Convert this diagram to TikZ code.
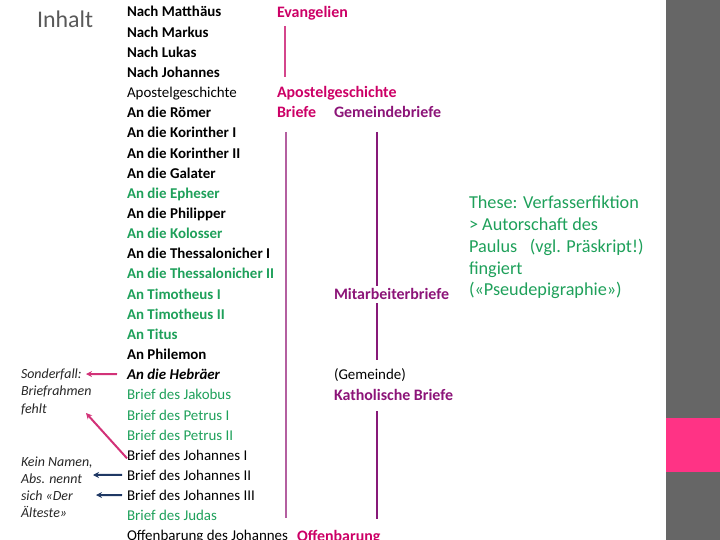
\documentclass[tikz,border=0pt]{standalone}
\usepackage{fontspec}
\setmainfont{Carlito}
\usetikzlibrary{arrows.meta}
\definecolor{grn}{RGB}{30,160,90}
\definecolor{pinkT}{RGB}{204,0,102}
\definecolor{purpT}{RGB}{140,20,120}
\definecolor{lineA}{RGB}{212,70,140}
\definecolor{lineB}{RGB}{180,95,160}
\definecolor{lineC}{RGB}{135,25,120}
\definecolor{arrP}{RGB}{210,50,120}
\definecolor{navy}{RGB}{31,56,100}
\definecolor{barg}{RGB}{102,102,102}
\definecolor{barp}{RGB}{255,51,133}
\definecolor{inh}{RGB}{89,89,89}
\tikzset{
  txt/.style={anchor=base west, inner sep=0pt, outer sep=0pt},
  rowf/.style={txt, font=\fontsize{15}{18}\selectfont},
  bk/.style={rowf, text=black},
  bb/.style={rowf, text=black, font=\fontsize{15}{18}\selectfont\bfseries},
  bbi/.style={rowf, text=black, font=\fontsize{15}{18}\selectfont\bfseries\itshape},
  gb/.style={rowf, text=grn, font=\fontsize{15}{18}\selectfont\bfseries},
  gr/.style={rowf, text=grn},
  lab/.style={txt, font=\fontsize{16}{19}\selectfont\bfseries},
  note/.style={txt, text=black!85, font=\fontsize{14}{17}\selectfont\itshape},
  thesis/.style={txt, text=grn, font=\fontsize{18.3}{21.7}\selectfont},
  vline/.style={line width=2bp},
  arr/.style={line width=2bp, -{Stealth[length=6bp,width=6bp]}}
}
\begin{document}
\begin{tikzpicture}[x=1bp,y=-1bp]
\useasboundingbox (0,0) rectangle (720,540);
\clip (0,0) rectangle (720,540);
% right bar
\fill[barg] (666,0) rectangle (720,540);
\fill[barp] (666,418) rectangle (720,472);
% title
\node[txt, text=inh, font=\fontsize{24}{28}\selectfont] (inhalt) at (37,28) {Inhalt};
% list of books
\foreach \t/\s [count=\i] in {
  Nach Matthäus/bb, Nach Markus/bb, Nach Lukas/bb, Nach Johannes/bb,
  Apostelgeschichte/bk, An die Römer/bb, An die Korinther I/bb,
  An die Korinther II/bb, An die Galater/bb, An die Epheser/gb,
  An die Philipper/bb, An die Kolosser/gb, An die Thessalonicher I/bb,
  An die Thessalonicher II/gb, An Timotheus I/gb, An Timotheus II/gb,
  An Titus/gb, An Philemon/bb, An die Hebräer/bbi, Brief des Jakobus/gr,
  Brief des Petrus I/gr, Brief des Petrus II/gr, Brief des Johannes I/bk,
  Brief des Johannes II/bk, Brief des Johannes III/bk, Brief des Judas/gr,
  Offenbarung des Johannes/bk}
  \node[\s] (r\i) at (127,{17+20.15*(\i-1)}) {\t};
% group labels
\node[lab, text=pinkT] (evang) at (277,17.2) {Evangelien};
\node[lab, text=pinkT] (apg) at (277,97.8) {Apostelgeschichte};
\node[lab, text=pinkT] (briefe) at (277,118) {Briefe};
\node[lab, text=purpT] (gemb) at (334,118) {Gemeindebriefe};
\node[lab, text=purpT] (mitb) at (334,299.3) {Mitarbeiterbriefe};
\node[txt, text=black, font=\fontsize{15}{18}\selectfont] (gem) at (334,379.7) {(Gemeinde)};
\node[lab, text=purpT] (kath) at (334,400) {Katholische Briefe};
\node[lab, text=pinkT] (offb) at (297,541) {Offenbarung};
% bracket lines
\coordinate (e1) at (285,26);   \coordinate (e2) at (285,77);
\coordinate (b1) at (285.5,132); \coordinate (b2) at (285.5,518);
\coordinate (g1) at (376.7,132); \coordinate (g2) at (376.7,286);
\coordinate (m1) at (376.7,303); \coordinate (m2) at (376.7,360);
\coordinate (k1) at (376.7,411); \coordinate (k2) at (376.7,519);
\draw[vline, lineA] (e1) -- (e2);
\draw[vline, lineB] (b1) -- (b2);
\draw[vline, lineC] (g1) -- (g2);
\draw[vline, lineC] (m1) -- (m2);
\draw[vline, lineC] (k1) -- (k2);
% thesis
\node[thesis] (t1) at (469,209) {These: Verfasserfiktion};
\node[thesis] (t2) at (469,230.7) {> Autorschaft des};
\node[thesis] (t3) at (469,252.4) {Paulus\hspace{0.7em}(vgl. Präskript!)};
\node[thesis] (t4) at (469,274.1) {fingiert};
\node[thesis] (t5) at (469,295.8) {(«Pseudepigraphie»)};
% left notes
\node[note] (n1) at (21,378) {Sonderfall:};
\node[note] (n2) at (21,395.5) {Briefrahmen};
\node[note] (n3) at (21,413) {fehlt};
\node[note] (k1n) at (21,466) {Kein Namen,};
\node[note] (k2n) at (21,483) {Abs. nennt};
\node[note] (k3n) at (21,500) {sich «Der};
\node[note] (k4n) at (21,517) {Älteste»};
% arrows
\coordinate (pa) at (86,374);
\coordinate (pd) at (86,413);
\coordinate (na) at (93,475);
\coordinate (nb) at (96,495);
\draw[arr, arrP] ([xshift=-10bp,yshift=5.5bp]r19.base west) -- (pa);
\draw[arr, arrP] ([xshift=0bp,yshift=2bp]r23.base west) -- (pd);
\draw[arr, navy] ([xshift=-5bp,yshift=5.5bp]r24.base west) -- (na);
\draw[arr, navy] ([xshift=-5bp,yshift=5.5bp]r25.base west) -- (nb);
\end{tikzpicture}
\end{document}
